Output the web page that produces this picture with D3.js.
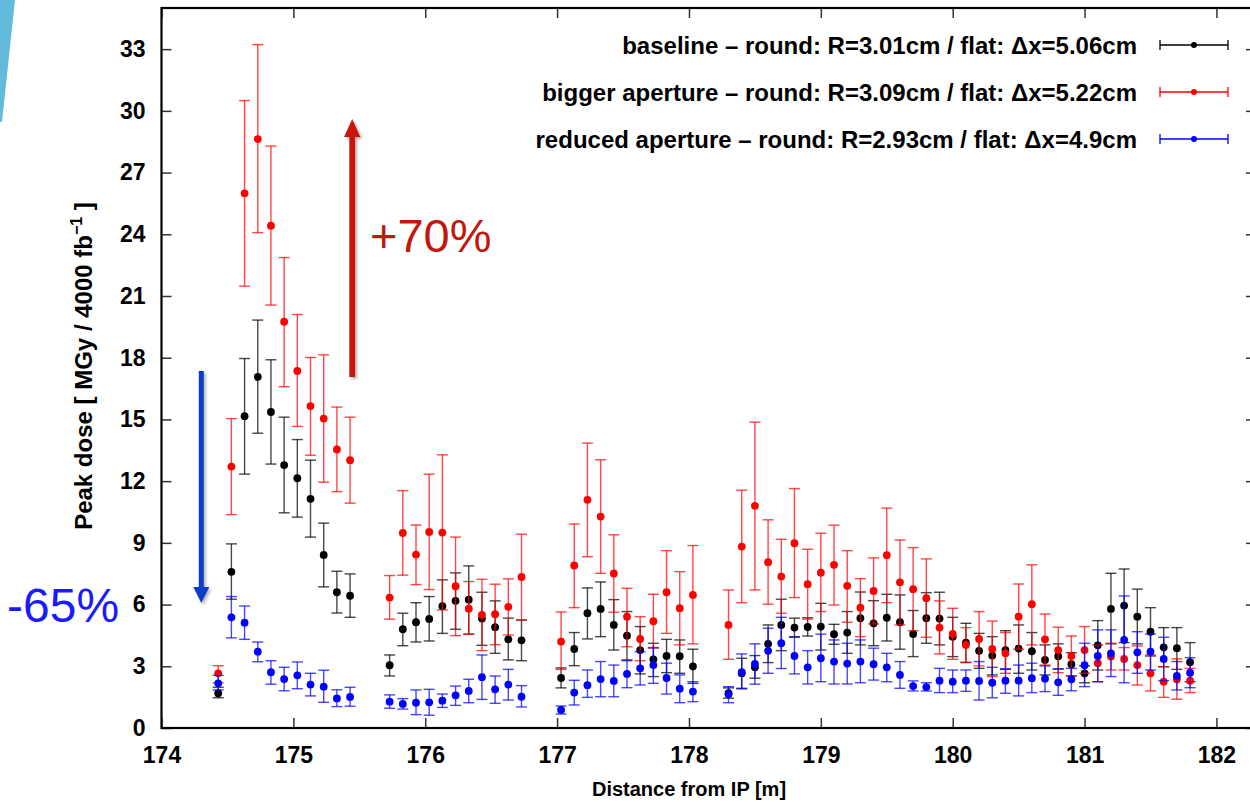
<!DOCTYPE html>
<html>
<head>
<meta charset="utf-8">
<script src="https://cdn.jsdelivr.net/npm/d3@7"></script>
<style>
	body { margin: 0; background: #fff; }
	svg { display: block; font-family: "Liberation Sans", Arial, Helvetica, sans-serif; }
	.axis text { font-weight: bold; font-size: 23px; fill: #000; }
	.axis line { stroke: #333; stroke-width: 1.5; }
	.axis path { display: none; }
</style>
</head>
<body>
<div class="dose-viz"></div>
<script>

	/* ---------------------------------
		Data
	------------------------------------*/

	// positions along the beam line [m]
	var positions = [
		174.43, 174.53, 174.63, 174.73, 174.83, 174.93, 175.03, 175.13, 175.23, 175.33, 175.43,
		175.73, 175.83, 175.93, 176.03, 176.13, 176.23, 176.33, 176.43, 176.53, 176.63, 176.73,
		177.03, 177.13, 177.23, 177.33, 177.43, 177.53, 177.63, 177.73, 177.83, 177.93, 178.03,
		178.30, 178.40, 178.50, 178.60, 178.70, 178.80, 178.90, 179.00, 179.10, 179.20, 179.30,
		179.40, 179.50, 179.60, 179.70, 179.80, 179.90, 180.00, 180.10, 180.20, 180.30, 180.40,
		180.50, 180.60, 180.70, 180.80, 180.90, 181.00, 181.10, 181.20, 181.30, 181.40, 181.50,
		181.60, 181.70, 181.80
	];

	// baseline
	var baseVal = [1.69, 7.59, 15.16, 17.07, 15.36, 12.78, 12.14, 11.14, 8.41, 6.6, 6.43,
		3.05, 4.8, 5.14, 5.3, 5.92, 6.18, 6.24, 5.32, 4.9, 4.31, 4.26,
		2.43, 3.84, 5.58, 5.79, 5.01, 4.49, 3.79, 3.34, 3.5, 3.49, 3.0,
		1.7, 2.66, 2.95, 4.09, 5.01, 4.88, 4.91, 4.93, 4.56, 4.64, 5.34,
		5.09, 5.36, 5.14, 4.57, 5.34, 5.32, 4.44, 4.15, 3.75, 3.52, 3.79,
		3.86, 3.73, 3.31, 3.49, 3.1, 2.66, 4.02, 5.79, 5.95, 5.41, 4.68,
		3.92, 3.88, 3.2];
	var baseLo = [1.47, 6.26, 12.34, 14.33, 12.83, 10.46, 10.25, 9.28, 6.86, 5.59, 5.38,
		2.53, 4.0, 4.18, 4.23, 4.6, 4.8, 4.56, 4.02, 3.63, 3.31, 3.27,
		1.95, 3.03, 4.33, 4.44, 3.79, 3.31, 2.63, 2.5, 2.69, 2.66, 2.17,
		1.45, 1.93, 2.42, 3.18, 3.76, 4.44, 4.47, 3.79, 4.07, 3.63, 4.04,
		4.0, 4.23, 3.83, 3.47, 4.12, 4.04, 3.47, 3.18, 2.9, 2.58, 2.85,
		2.66, 2.82, 2.58, 2.87, 2.53, 2.2, 2.82, 4.09, 4.15, 4.09, 3.5,
		2.98, 2.85, 2.25];
	var baseHi = [1.98, 8.95, 17.96, 19.83, 17.9, 15.11, 14.02, 13.02, 9.96, 7.62, 7.49,
		3.55, 5.58, 6.09, 6.39, 7.2, 7.54, 7.88, 6.6, 6.18, 5.34, 5.25,
		2.92, 4.64, 6.81, 7.1, 6.24, 5.66, 4.93, 4.12, 4.31, 4.28, 3.83,
		1.95, 3.39, 3.52, 5.01, 6.26, 5.34, 5.36, 6.06, 5.04, 5.66, 6.61,
		6.19, 6.5, 6.47, 5.71, 6.58, 6.6, 5.38, 5.09, 4.6, 4.44, 4.73,
		5.01, 4.64, 4.04, 4.09, 3.66, 3.02, 5.22, 7.52, 7.73, 6.75, 5.85,
		4.88, 4.88, 4.15];

	// bigger aperture
	var bigVal = [2.66, 12.71, 25.99, 28.63, 24.42, 19.75, 17.36, 15.65, 15.04, 13.54, 13.02,
		6.34, 9.48, 8.43, 9.53, 9.5, 6.89, 5.8, 5.5, 5.53, 5.89, 7.34,
		4.2, 7.9, 11.09, 10.28, 7.51, 5.41, 4.33, 5.19, 6.6, 5.82, 6.47,
		5.01, 8.82, 10.8, 8.06, 7.36, 8.98, 6.99, 7.55, 7.93, 6.91, 5.85,
		6.66, 8.4, 7.08, 6.75, 6.31, 4.88, 4.57, 4.04, 4.33, 3.84, 3.63,
		5.41, 6.02, 4.31, 3.79, 3.5, 3.79, 3.15, 3.47, 3.36, 3.06, 2.66,
		2.25, 2.37, 2.3];
	var bigLo = [2.2, 10.37, 21.48, 24.08, 20.56, 16.59, 14.66, 13.26, 11.95, 11.49, 10.93,
		5.29, 7.43, 6.97, 6.73, 5.74, 4.49, 4.56, 3.76, 4.05, 4.52, 5.25,
		2.85, 5.85, 8.33, 7.52, 5.63, 3.95, 3.27, 3.88, 4.6, 4.04, 4.09,
		3.34, 6.09, 6.71, 6.02, 5.58, 6.34, 5.29, 5.66, 5.98, 5.14, 4.44,
		5.06, 6.09, 5.01, 4.73, 4.41, 3.6, 3.34, 3.2, 3.02, 2.5, 2.66,
		3.83, 4.04, 3.06, 2.69, 2.53, 2.66, 2.25, 2.82, 2.82, 2.09, 1.8,
		1.49, 1.4, 1.72];
	var bigHi = [3.03, 15.04, 30.5, 33.22, 28.29, 22.87, 20.1, 18.01, 18.14, 15.6, 15.11,
		7.41, 11.54, 9.87, 12.34, 13.28, 9.28, 7.12, 7.23, 6.99, 7.25, 9.42,
		5.64, 9.92, 13.85, 13.04, 9.39, 6.79, 5.41, 6.5, 8.62, 7.6, 8.87,
		6.71, 11.56, 14.87, 10.12, 9.17, 11.64, 8.69, 9.47, 9.86, 8.62, 7.26,
		8.27, 10.69, 9.14, 8.77, 8.22, 6.18, 5.82, 4.88, 5.66, 5.2, 4.64,
		7.0, 7.93, 5.54, 4.9, 4.47, 4.93, 4.04, 4.12, 3.91, 3.99, 3.55,
		2.98, 3.36, 2.9];

	// reduced aperture
	var redVal = [2.17, 5.38, 5.12, 3.71, 2.71, 2.38, 2.56, 2.11, 2.01, 1.44, 1.51,
		1.28, 1.17, 1.23, 1.25, 1.33, 1.59, 1.8, 2.47, 1.88, 2.11, 1.52,
		0.88, 1.72, 2.08, 2.38, 2.29, 2.63, 2.9, 3.06, 2.43, 1.91, 1.77,
		1.64, 2.72, 3.11, 3.75, 4.12, 3.5, 2.95, 3.39, 3.23, 3.13, 3.23,
		3.1, 2.95, 2.58, 2.04, 1.99, 2.3, 2.25, 2.3, 2.29, 2.2, 2.3,
		2.3, 2.42, 2.4, 2.22, 2.37, 3.05, 3.5, 3.63, 4.28, 3.68, 3.71,
		3.36, 2.53, 2.69];
	var redLo = [1.85, 4.38, 4.31, 3.22, 2.13, 1.81, 1.91, 1.56, 1.25, 1.04, 1.06,
		0.96, 0.92, 0.65, 0.62, 1.0, 1.1, 1.23, 1.39, 1.2, 1.36, 1.02,
		0.68, 1.12, 1.49, 1.52, 1.52, 1.96, 2.09, 2.17, 1.65, 1.23, 1.28,
		1.23, 1.9, 2.13, 2.66, 2.89, 2.63, 2.14, 2.25, 2.14, 2.14, 2.2,
		2.33, 2.25, 1.93, 1.8, 1.8, 1.72, 1.72, 1.78, 1.36, 1.47, 1.69,
		1.56, 1.72, 1.77, 1.59, 1.81, 2.01, 2.25, 2.5, 2.2, 2.66, 2.82,
		2.3, 1.85, 1.96];
	var redHi = [2.56, 6.39, 5.93, 4.18, 3.27, 2.95, 3.21, 2.66, 2.81, 1.86, 1.98,
		1.61, 1.43, 1.85, 1.88, 1.65, 2.04, 2.37, 3.55, 2.53, 2.85, 2.06,
		1.07, 2.32, 2.82, 3.23, 3.06, 3.27, 3.71, 3.91, 3.15, 2.58, 2.25,
		2.01, 3.6, 4.09, 4.85, 5.38, 4.41, 3.76, 4.56, 4.28, 4.12, 4.28,
		3.88, 3.63, 3.23, 2.29, 2.2, 2.9, 2.82, 2.82, 3.23, 2.95, 2.88,
		3.06, 3.15, 3.02, 2.87, 2.9, 4.12, 4.77, 4.77, 6.42, 4.68, 4.57,
		4.41, 3.23, 3.42];

	var seriesNames = [
		"baseline \u2013 round: R=3.01cm / flat: \u0394x=5.06cm",
		"bigger aperture \u2013 round: R=3.09cm / flat: \u0394x=5.22cm",
		"reduced aperture \u2013 round: R=2.93cm / flat: \u0394x=4.9cm"
	];
	var seriesColors = ["#000000", "#ff0000", "#0000ff"];

	var yTicks = [0, 3, 6, 9, 12, 15, 18, 21, 24, 27, 30, 33];
	var xTicks = [174, 175, 176, 177, 178, 179, 180, 181, 182];


	/* ---------------------------------
		Setup
	------------------------------------*/

	var w = 1250;
	var h = 802;
	var plotLeft = 161.5, plotRight = 1256, plotTop = 8, plotBottom = 728;

	var xScale = d3.scaleLinear().domain([174, 182.3]).range([plotLeft, plotRight]);
	var yScale = d3.scaleLinear().domain([0, 35]).range([plotBottom, plotTop]);

	var svg = d3.select(".dose-viz")
				.append("svg")
				.attr("width", w)
				.attr("height", h);

	var defs = svg.append("defs");
	var shadow = defs.append("filter").attr("id", "shadow")
		.attr("x", "-50%").attr("y", "-10%").attr("width", "200%").attr("height", "120%");
	shadow.append("feDropShadow")
		.attr("dx", 2).attr("dy", 2).attr("stdDeviation", 1.5)
		.attr("flood-color", "#000").attr("flood-opacity", 0.3);

	// slide decoration top left
	svg.append("polygon")
		.attr("points", "0,0 15,0 2,122 0,122")
		.attr("fill", "#63bbdb");


	/* ---------------------------------
		Axes
	------------------------------------*/

	svg.append("g")
		.attr("class", "axis")
		.attr("transform", "translate(0," + plotBottom + ")")
		.call(d3.axisBottom(xScale).tickValues(xTicks).tickSize(-10).tickPadding(19).tickFormat(d3.format("d")));

	svg.append("g")
		.attr("class", "axis")
		.attr("transform", "translate(0," + plotTop + ")")
		.call(d3.axisTop(xScale).tickValues(xTicks).tickSize(-10).tickFormat(""));

	svg.append("g")
		.attr("class", "axis")
		.attr("transform", "translate(" + plotLeft + ",0)")
		.call(d3.axisLeft(yScale).tickValues(yTicks).tickSize(-10).tickPadding(16).tickFormat(d3.format("d")));

	svg.append("g")
		.attr("class", "axis")
		.attr("transform", "translate(" + plotRight + ",0)")
		.call(d3.axisRight(yScale).tickValues(yTicks).tickSize(-10).tickFormat(""));

	// frame
	svg.append("rect")
		.attr("x", plotLeft)
		.attr("y", plotTop)
		.attr("width", plotRight - plotLeft)
		.attr("height", plotBottom - plotTop)
		.attr("fill", "none")
		.attr("stroke", "#000")
		.attr("stroke-width", 2.2);

	// axis titles
	svg.append("text")
		.attr("x", 689)
		.attr("y", 796)
		.attr("text-anchor", "middle")
		.attr("font-weight", "bold")
		.attr("font-size", 20)
		.text("Distance from IP [m]");

	var yTitle = svg.append("text")
		.attr("transform", "translate(92,366) rotate(-90)")
		.attr("text-anchor", "middle")
		.attr("font-weight", "bold")
		.attr("font-size", 24);
	yTitle.append("tspan").text("Peak dose [ MGy / 4000 fb");
	yTitle.append("tspan").attr("font-size", 16).attr("dy", -10).text("\u22121");
	yTitle.append("tspan").attr("dy", 10).text(" ]");


	/* ---------------------------------
		Error bars + points
	------------------------------------*/

	var allSeries = [
		{ val: baseVal, lo: baseLo, hi: baseHi },
		{ val: bigVal, lo: bigLo, hi: bigHi },
		{ val: redVal, lo: redLo, hi: redHi }
	];

	var capHalf = 5.5;

	allSeries.forEach(function(s, si) {

		var rows = positions.map(function(p, i) {
			return { x: p, v: s.val[i], lo: s.lo[i], hi: s.hi[i] };
		});

		var g = svg.append("g");

		var eb = g.selectAll(".eb")
			.data(rows).enter()
			.append("g")
			.attr("stroke", seriesColors[si])
			.attr("stroke-opacity", 0.72)
			.attr("stroke-width", 1.4);

		eb.append("line")
			.attr("x1", function(d) { return xScale(d.x); })
			.attr("x2", function(d) { return xScale(d.x); })
			.attr("y1", function(d) { return yScale(d.lo); })
			.attr("y2", function(d) { return yScale(d.hi); });

		eb.append("line")
			.attr("x1", function(d) { return xScale(d.x) - capHalf; })
			.attr("x2", function(d) { return xScale(d.x) + capHalf; })
			.attr("y1", function(d) { return yScale(d.lo); })
			.attr("y2", function(d) { return yScale(d.lo); });

		eb.append("line")
			.attr("x1", function(d) { return xScale(d.x) - capHalf; })
			.attr("x2", function(d) { return xScale(d.x) + capHalf; })
			.attr("y1", function(d) { return yScale(d.hi); })
			.attr("y2", function(d) { return yScale(d.hi); });

		g.selectAll("circle")
			.data(rows).enter()
			.append("circle")
			.attr("cx", function(d) { return xScale(d.x); })
			.attr("cy", function(d) { return yScale(d.v); })
			.attr("r", 3.9)
			.attr("fill", seriesColors[si]);
	});


	/* ---------------------------------
		Legend
	------------------------------------*/

	seriesNames.forEach(function(name, i) {
		var cy = 45 + i * 47;
		svg.append("text")
			.attr("x", 1137)
			.attr("y", cy + 8.5)
			.attr("text-anchor", "end")
			.attr("font-weight", "bold")
			.attr("font-size", 24)
			.text(name);

		var lg = svg.append("g").attr("stroke", seriesColors[i]).attr("stroke-width", 1.3);
		lg.append("line").attr("x1", 1160).attr("x2", 1228).attr("y1", cy).attr("y2", cy);
		lg.append("line").attr("x1", 1160).attr("x2", 1160).attr("y1", cy - 5).attr("y2", cy + 5);
		lg.append("line").attr("x1", 1228).attr("x2", 1228).attr("y1", cy - 5).attr("y2", cy + 5);
		svg.append("circle").attr("cx", 1194).attr("cy", cy).attr("r", 3).attr("fill", seriesColors[i]);
	});


	/* ---------------------------------
		Annotations (arrows + percentages)
	------------------------------------*/

	// red arrow up
	svg.append("path")
		.attr("d", "M349.3,377 L349.3,137 L344,137 L352.2,119 L360.4,137 L355.1,137 L355.1,377 Z")
		.attr("fill", "#c8180a")
		.attr("filter", "url(#shadow)");

	// blue arrow down
	svg.append("path")
		.attr("d", "M198.8,371 L198.8,587 L193.3,587 L201.3,603 L209.3,587 L203.8,587 L203.8,371 Z")
		.attr("fill", "#0a3ec6")
		.attr("filter", "url(#shadow)");

	svg.append("text")
		.attr("x", 370)
		.attr("y", 252)
		.attr("font-size", 47)
		.attr("fill", "#c0180c")
		.text("+70%");

	svg.append("text")
		.attr("x", 7)
		.attr("y", 622)
		.attr("font-size", 48)
		.attr("fill", "#1a1aff")
		.text("-65%");

</script>
</body>
</html>
